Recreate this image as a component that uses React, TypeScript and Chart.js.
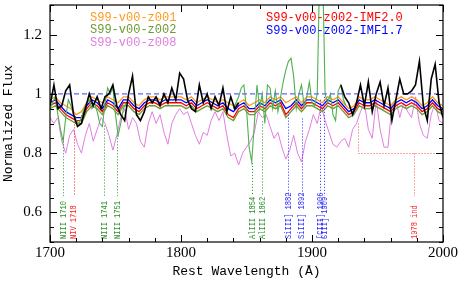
import { useEffect, useRef } from "react";
import { Chart, registerables } from "chart.js";
Chart.register(...registerables);

// ---------- data ----------
const blackWave: number[] = Array.from({ length: 101 }, (_, i) => 1700 + i * 3);
const blackFlux: (number | null)[] = [
  0.96, 1.03, 0.95, 0.96, 1.01, 1.03, 0.93, 0.89, 0.90, 0.95,
  1.00, 0.96, 0.99, 0.95, 0.99, 1.00, 1.03, 0.96, 0.93, 0.91,
  1.00, 1.06, 0.93, 0.91, 0.94, 0.99, 0.97, 0.99, 0.96, 1.00,
  0.97, 1.02, 0.98, 1.07, 1.05, 0.98, 0.95, 0.94, 1.03, 0.97,
  1.00, 0.95, 0.99, 0.96, 1.02, 0.94, 0.99, 0.95, 0.97, null,
  null, null, null, null, null, null, null, null, null, null,
  null, null, null, null, null, null, null, null, null, null,
  null, null, null, null, 1.03, 0.99, 0.97, 0.93, 0.97, 1.03,
  0.96, 1.04, 0.94, 1.00, 1.04, 0.96, 1.02, 0.91, 0.98, 1.05,
  1.00, 1.00, 1.01, 1.03, 1.11, 0.96, 0.91, 1.05, 1.10, 0.97,
  0.92,
];

const violetWave: number[] = Array.from({ length: 101 }, (_, i) => 1700 + i * 3);
const violetFlux: number[] = [
  0.92, 0.90, 0.92, 0.84, 0.80, 0.86, 0.88, 0.83, 0.80, 0.86,
  0.90, 0.84, 0.88, 0.92, 0.90, 0.86, 0.81, 0.86, 0.92, 0.95,
  0.88, 0.92, 0.90, 0.84, 0.82, 0.90, 0.94, 0.90, 0.93, 0.87,
  0.83, 0.90, 0.93, 0.95, 0.93, 0.94, 0.90, 0.86, 0.83, 0.87,
  0.86, 0.91, 0.94, 0.91, 0.94, 0.86, 0.79, 0.80, 0.76, 0.80,
  0.82, 0.84, 0.87, 0.94, 0.92, 0.93, 0.89, 0.85, 0.87, 0.82,
  0.78, 0.81, 0.86, 0.80, 0.77, 0.84, 0.88, 0.93, 0.90, 0.96,
  0.91, 0.87, 0.83, 0.82, 0.84, 0.85, 0.82, 0.88, 0.90, 0.94,
  0.97, 0.88, 0.85, 0.98, 0.88, 0.82, 0.82, 0.96, 0.98, 0.92,
  0.97, 0.94, 0.92, 0.99, 0.90, 0.86, 0.85, 0.93, 0.97, 0.91,
  0.90,
];

const greenWaveA: number[] = Array.from({ length: 30 }, (_, i) => 1700 + i * 2);
const greenFluxA: number[] = [
  0.95, 0.97, 0.99, 0.93, 0.88, 0.84, 0.92, 0.98, 0.96, 0.93,
  0.91, 0.90, 0.92, 0.95, 0.97, 0.98, 0.95, 0.97, 0.94, 0.90,
  0.89, 0.97, 1.02, 1.00, 1.02, 0.93, 0.86, 0.90, 0.95, 0.97,
];

const greenWaveB: number[] = Array.from({ length: 44 }, (_, i) => 1840 + i * 2);
const greenFluxB: number[] = [
  0.95, 0.97, 0.99, 1.02, 1.03, 0.95, 0.82, 0.77, 0.90, 1.03,
  0.95, 1.00, 0.90, 1.03, 1.02, 0.95, 1.01, 0.94, 0.99, 1.04,
  1.08, 1.11, 1.12, 1.06, 0.95, 1.00, 1.03, 0.96, 0.99, 1.04,
  0.97, 0.96, 1.00, 1.45, 1.45, 1.00, 0.97, 1.00, 0.93, 0.91,
  1.01, 1.03, 0.98, 0.96,
];

const modelWave: number[] = Array.from({ length: 76 }, (_, i) => 1700 + i * 4);
const orangeFlux: number[] = [
  0.98, 0.99, 0.97, 0.96, 0.95, 0.93, 0.94, 0.97, 0.99, 0.98,
  0.97, 0.99, 0.98, 0.97, 0.99, 0.99, 0.97, 0.96, 0.98, 0.99,
  0.99, 0.98, 0.99, 0.99, 0.99, 0.99, 0.98, 0.99, 0.97, 0.98,
  0.99, 0.98, 0.97, 0.98, 0.97, 0.96, 0.97, 0.98, 0.96, 0.97,
  0.98, 0.97, 0.99, 0.98, 0.99, 0.97, 0.98, 0.99, 0.97, 0.99,
  0.99, 0.98, 0.97, 0.99, 0.98, 0.99, 0.97, 0.95, 0.96, 0.99,
  0.98, 0.98, 0.99, 0.98, 0.97, 0.96, 0.98, 0.99, 0.98, 0.99,
  0.98, 0.96, 0.97, 0.99, 0.97, 0.96,
];
const blueFlux: number[] = [
  0.97, 0.98, 0.96, 0.94, 0.93, 0.92, 0.92, 0.96, 0.98, 0.97,
  0.95, 0.98, 0.97, 0.95, 0.98, 0.98, 0.96, 0.95, 0.97, 0.98,
  0.98, 0.97, 0.98, 0.98, 0.98, 0.98, 0.97, 0.98, 0.96, 0.97,
  0.98, 0.97, 0.96, 0.97, 0.95, 0.94, 0.96, 0.97, 0.95, 0.95,
  0.97, 0.96, 0.98, 0.97, 0.98, 0.95, 0.96, 0.98, 0.96, 0.98,
  0.98, 0.97, 0.96, 0.98, 0.97, 0.98, 0.96, 0.94, 0.95, 0.98,
  0.97, 0.97, 0.98, 0.97, 0.96, 0.95, 0.97, 0.98, 0.97, 0.98,
  0.97, 0.95, 0.96, 0.98, 0.96, 0.95,
];
const redFlux: number[] = [
  0.96, 0.97, 0.95, 0.93, 0.92, 0.91, 0.91, 0.95, 0.97, 0.96,
  0.94, 0.97, 0.96, 0.94, 0.97, 0.97, 0.95, 0.94, 0.96, 0.97,
  0.97, 0.96, 0.97, 0.97, 0.97, 0.97, 0.96, 0.97, 0.95, 0.96,
  0.97, 0.96, 0.95, 0.96, 0.93, 0.92, 0.95, 0.96, 0.94, 0.94,
  0.96, 0.95, 0.97, 0.96, 0.97, 0.93, 0.95, 0.97, 0.95, 0.97,
  0.97, 0.96, 0.95, 0.97, 0.96, 0.97, 0.95, 0.93, 0.94, 0.97,
  0.96, 0.96, 0.97, 0.96, 0.95, 0.94, 0.96, 0.97, 0.96, 0.97,
  0.96, 0.94, 0.95, 0.97, 0.95, 0.94,
];
const oliveFlux: number[] = [
  0.95, 0.96, 0.94, 0.92, 0.91, 0.90, 0.90, 0.94, 0.96, 0.95,
  0.93, 0.96, 0.95, 0.93, 0.96, 0.96, 0.94, 0.93, 0.95, 0.96,
  0.96, 0.95, 0.96, 0.96, 0.96, 0.96, 0.95, 0.96, 0.94, 0.95,
  0.96, 0.95, 0.94, 0.95, 0.92, 0.91, 0.94, 0.95, 0.93, 0.93,
  0.95, 0.94, 0.96, 0.95, 0.96, 0.92, 0.94, 0.96, 0.94, 0.96,
  0.96, 0.95, 0.94, 0.96, 0.95, 0.96, 0.94, 0.92, 0.93, 0.96,
  0.95, 0.95, 0.96, 0.95, 0.94, 0.93, 0.95, 0.96, 0.95, 0.96,
  0.95, 0.93, 0.94, 0.96, 0.94, 0.93,
];

const refWave: number[] = [1700, 2000];
const refFlux: number[] = [1, 1];

const legendLeft: string[] = ["S99-v00-z001", "S99-v00-z002", "S99-v00-z008"];
const legendRight: string[] = ["S99-v00-z002-IMF2.0", "S99-v00-z002-IMF1.7"];

const lineWaves: number[] = [1710, 1718, 1741, 1751, 1854, 1862, 1882, 1892, 1906, 1909];
const lineLabels: string[] = [
  "NIII 1710", "NIV 1718", "NIII 1741", "NIII 1751", "AlIII 1854",
  "AlIII 1862", "SiIII] 1882", "SiIII] 1892", "[CIII] 1906", "CIII] 1909",
];
const lineTops: number[] = [0.85, 0.907, 0.893, 0.86, 0.767, 0.907, 0.94, 0.917, 0.98, 0.99];
const lineKinds: string[] = ["g", "r", "g", "g", "g", "g", "b", "b", "b", "b"];
const lineBottom = 0.655;

const indexRange: number[] = [1935, 2000];
const indexLevel = 0.8;
const indexTop = 0.9;
const indexWave = 1978;
const indexLabel = "1978 ind";

// ---------- styles ----------
const C = {
  black: "#000000",
  orange: "#ff9a1f",
  olive: "#6b9b33",
  violet: "#e07ee0",
  red: "#ff0000",
  blue: "#0000ff",
  green: "#4fb04f",
  ref: "#6464ff",
};
const kindColor: Record<string, string> = { g: "#2a8f2a", r: "#ff2020", b: "#2828ff" };

const pts = (w: number[], f: (number | null)[]) => w.map((x, i) => ({ x, y: f[i] }));

const overlay = {
  id: "overlay",
  afterDatasetsDraw(chart: any) {
    const { ctx, scales } = chart;
    const x = scales.x, y = scales.y;
    ctx.save();
    ctx.lineWidth = 1;
    ctx.setLineDash([1, 2]);
    lineWaves.forEach((w, i) => {
      const px = Math.round(x.getPixelForValue(w)) + 0.5;
      ctx.strokeStyle = kindColor[lineKinds[i]];
      ctx.beginPath();
      ctx.moveTo(px, y.getPixelForValue(lineTops[i]));
      ctx.lineTo(px, y.getPixelForValue(lineBottom));
      ctx.stroke();
    });
    // index bracket
    ctx.strokeStyle = "#ff4a4a";
    const x0 = Math.round(x.getPixelForValue(indexRange[0])) + 0.5;
    const x1 = x.getPixelForValue(indexRange[1]);
    const yl = Math.round(y.getPixelForValue(indexLevel)) + 0.5;
    ctx.beginPath();
    ctx.moveTo(x0, y.getPixelForValue(indexTop));
    ctx.lineTo(x0, yl);
    ctx.lineTo(x1, yl);
    const xi = Math.round(x.getPixelForValue(indexWave)) + 0.5;
    ctx.moveTo(xi, yl);
    ctx.lineTo(xi, y.getPixelForValue(lineBottom));
    ctx.stroke();
    ctx.setLineDash([]);

    // rotated labels
    const drawLabel = (txt: string, w: number, color: string) => {
      const px = x.getPixelForValue(w);
      ctx.save();
      ctx.translate(px, chart.chartArea.bottom - 3);
      ctx.rotate(-Math.PI / 2);
      ctx.scale(0.78, 1);
      ctx.fillStyle = color;
      ctx.font = "9px 'Liberation Mono'";
      ctx.textAlign = "left";
      ctx.textBaseline = "middle";
      ctx.fillText(txt, 0, 0.5);
      ctx.restore();
    };
    lineWaves.forEach((w, i) => drawLabel(lineLabels[i], w, kindColor[lineKinds[i]]));
    drawLabel(indexLabel, indexWave, "#ff2020");
    ctx.restore();
  },
  afterDraw(chart: any) {
    const { ctx, chartArea: a, scales } = chart;
    ctx.save();
    ctx.strokeStyle = "#000";
    ctx.lineWidth = 1.2;
    ctx.strokeRect(a.left, a.top, a.right - a.left, a.bottom - a.top);
    ctx.lineWidth = 1;
    ctx.beginPath();
    scales.x.ticks.forEach((t: any) => {
      const v = t.value;
      const px = Math.round(scales.x.getPixelForValue(v)) + 0.5;
      const len = Math.round(v) % 100 === 0 ? 7 : 4;
      ctx.moveTo(px, a.bottom);
      ctx.lineTo(px, a.bottom - len);
      ctx.moveTo(px, a.top);
      ctx.lineTo(px, a.top + len);
    });
    scales.y.ticks.forEach((t: any) => {
      const v = t.value;
      const py = Math.round(scales.y.getPixelForValue(v)) + 0.5;
      const n = Math.round(v * 100);
      const len = n % 20 === 0 ? 7 : 4;
      ctx.moveTo(a.left, py);
      ctx.lineTo(a.left + len, py);
      ctx.moveTo(a.right, py);
      ctx.lineTo(a.right - len, py);
    });
    ctx.stroke();

    // legend texts
    ctx.font = "12px 'Liberation Mono'";
    ctx.textAlign = "left";
    ctx.textBaseline = "alphabetic";
    const leftCols = [C.orange, C.olive, C.violet];
    legendLeft.forEach((s, i) => {
      ctx.fillStyle = leftCols[i];
      ctx.fillText(s, 90, 21 + i * 12.3);
    });
    const rightCols = [C.red, C.blue];
    legendRight.forEach((s, i) => {
      ctx.fillStyle = rightCols[i];
      ctx.fillText(s, 266, 21 + i * 12.5);
    });
    ctx.restore();
  },
};

export default function App() {
  const ref = useRef<HTMLCanvasElement>(null);
  useEffect(() => {
    const line = (data: any, color: string, width: number, extra: any = {}) => ({
      data,
      borderColor: color,
      backgroundColor: color,
      borderWidth: width,
      pointRadius: 0,
      tension: 0,
      spanGaps: false,
      ...extra,
    });
    const chart = new Chart(ref.current!, {
      type: "line",
      data: {
        datasets: [
          line(pts(blackWave, blackFlux), C.black, 1.6),
          line(pts(refWave, refFlux), C.ref, 1.4, { borderDash: [5, 3] }),
          line(pts(greenWaveA, greenFluxA), C.green, 1.1),
          line(pts(greenWaveB, greenFluxB), C.green, 1.1),
          line(pts(modelWave, orangeFlux), C.orange, 1.3),
          line(pts(modelWave, blueFlux), C.blue, 1.3),
          line(pts(modelWave, redFlux), C.red, 1.3),
          line(pts(modelWave, oliveFlux), C.olive, 1.3),
          line(pts(violetWave, violetFlux), C.violet, 1.0),
        ],
      },
      options: {
        responsive: false,
        animation: false,
        layout: { padding: { top: 5, right: 21, left: 0, bottom: 0 } },
        plugins: { legend: { display: false }, tooltip: { enabled: false } },
        scales: {
          x: {
            type: "linear",
            min: 1700,
            max: 2000,
            grid: { display: false, drawTicks: false },
            border: { display: false },
            afterFit: (s: any) => { s.height = 39; s.paddingLeft = 0; s.paddingRight = 0; },
            ticks: {
              stepSize: 20,
              autoSkip: false,
              maxRotation: 0,
              padding: 2,
              color: "#000",
              font: { family: "'Liberation Serif'", size: 15 },
              callback: (v: any) => (Math.round(v) % 100 === 0 ? String(Math.round(v)) : ""),
            },
            title: {
              display: true,
              text: "Rest Wavelength (Å)",
              color: "#000",
              font: { family: "'Liberation Mono'", size: 13 },
              padding: { top: 0, bottom: 2 },
            },
          },
          y: {
            type: "linear",
            min: 0.5,
            max: 1.3,
            grid: { display: false, drawTicks: false },
            border: { display: false },
            afterFit: (s: any) => { s.width = 50; s.paddingTop = 0; s.paddingBottom = 0; },
            ticks: {
              stepSize: 0.05,
              autoSkip: false,
              padding: 8,
              color: "#000",
              font: { family: "'Liberation Serif'", size: 15 },
              callback: (v: any) => {
                const n = Math.round(v * 100);
                return n % 20 === 0 ? String(n / 100) : "";
              },
            },
            title: {
              display: true,
              text: "Normalized Flux",
              color: "#000",
              font: { family: "'Liberation Mono'", size: 13 },
              padding: { top: 1, bottom: 0 },
            },
          },
        },
      },
      plugins: [overlay],
    } as any);
    return () => chart.destroy();
  }, []);
  return (
    <div style={{ position: "fixed", left: 0, top: 0, width: 464, height: 281, background: "#fff" }}>
      <canvas ref={ref} width={464} height={281} style={{ display: "block" }} />
    </div>
  );
}
